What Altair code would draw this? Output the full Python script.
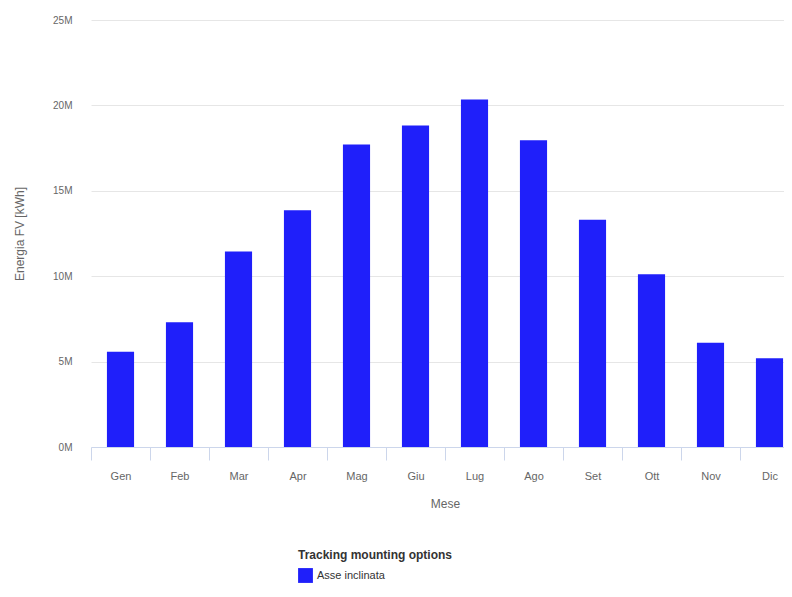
import altair as alt
import pandas as pd

mesi = ["Gen", "Feb", "Mar", "Apr", "Mag", "Giu", "Lug", "Ago", "Set", "Ott", "Nov", "Dic"]
energia_kwh = [5.58e6, 7.30e6, 11.45e6, 13.86e6, 17.71e6, 18.83e6,
               20.35e6, 17.96e6, 13.31e6, 10.12e6, 6.11e6, 5.19e6]
serie = "Asse inclinata"
y_ticks = [0, 5e6, 10e6, 15e6, 20e6, 25e6]

df = pd.DataFrame({"Mese": mesi, "Energia": energia_kwh, "Serie": [serie] * len(mesi)})

FONT = "Liberation Sans"

chart = alt.Chart(df).mark_bar(width=alt.RelativeBandSize(0.46)).encode(
    x=alt.X("Mese:N", sort=mesi,
            scale=alt.Scale(paddingInner=0, paddingOuter=0, range=[0, 708]),
            axis=alt.Axis(title="Mese", labelAngle=0, tickBand="extent",
                          tickSize=13, tickColor="#ccd6eb", domainColor="#ccd6eb",
                          labelColor="#666666", labelFontSize=11, labelPadding=10,
                          titleColor="#666666", titleFontSize=12, titleFontWeight="normal",
                          titlePadding=17, grid=False, labelFont=FONT, titleFont=FONT)),
    y=alt.Y("Energia:Q", scale=alt.Scale(domain=[0, 25e6], nice=False),
            axis=alt.Axis(title="Energia FV [kWh]", values=y_ticks,
                          labelExpr="(datum.value / 1000000) + 'M'",
                          ticks=False, domain=False, labelPadding=19,
                          gridColor="#e6e6e6", labelColor="#666666", labelFontSize=10,
                          titleColor="#666666", titleFontSize=12, titleFontWeight="normal",
                          titlePadding=26, labelFont=FONT, titleFont=FONT)),
    color=alt.Color("Serie:N", scale=alt.Scale(domain=[serie], range=["#1f1ffa"]),
                    legend=alt.Legend(title="Tracking mounting options", orient="none",
                                      legendX=207, legendY=530, symbolType="square",
                                      symbolSize=220, symbolStrokeWidth=0,
                                      titleFontSize=12, titleFontWeight="bold",
                                      titleColor="#333333", labelFontSize=11,
                                      labelColor="#333333", titleFont=FONT, labelFont=FONT,
                                      titlePadding=6)),
).properties(
    width=693, height=427,
    background="white",
    autosize=alt.AutoSizeParams(type="none"),
    padding={"left": 83, "top": 12, "right": 0, "bottom": 140},
).configure_view(strokeWidth=0, stroke="transparent")

chart.save("out.html", embed_options={"renderer": "svg", "actions": False})
